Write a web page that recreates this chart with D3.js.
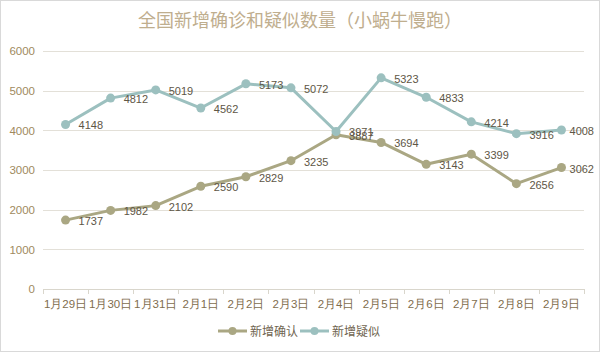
<!DOCTYPE html>
<html>
<head>
<meta charset="utf-8">
<script src="https://cdn.jsdelivr.net/npm/d3@7"></script>
<style>
  body { margin: 0; background: #fff; }
  svg { display: block; font-family: "Noto Sans CJK SC", "Noto Sans", sans-serif; }
</style>
</head>
<body>
<svg width="600" height="352"></svg>
<script>
  var categories = ["1月29日", "1月30日", "1月31日", "2月1日", "2月2日", "2月3日",
    "2月4日", "2月5日", "2月6日", "2月7日", "2月8日", "2月9日"];
  var confirmed = [1737, 1982, 2102, 2590, 2829, 3235, 3887, 3694, 3143, 3399, 2656, 3062];
  var suspected = [4148, 4812, 5019, 4562, 5173, 5072, 3971, 5323, 4833, 4214, 3916, 4008];
  var yTicks = [0, 1000, 2000, 3000, 4000, 5000, 6000];
  var seriesNames = ["新增确认", "新增疑似"];
  var seriesColors = ["#aaa783", "#9cc0bf"];

  var svg = d3.select("svg");
  var width = +svg.attr("width");
  var height = +svg.attr("height");

  // chart frame
  svg.append("rect")
    .attr("x", 0.5).attr("y", 0.5)
    .attr("width", width - 1).attr("height", height - 1)
    .attr("fill", "#fff").attr("stroke", "#d9d9d9");

  var margin = { top: 51, bottom: 63, left: 43, right: 16 };
  var innerWidth = width - margin.left - margin.right;
  var innerHeight = height - margin.top - margin.bottom;

  var xScale = d3.scaleBand()
    .domain(categories)
    .range([0, innerWidth]);

  var yScale = d3.scaleLinear()
    .domain([0, 6000])
    .range([innerHeight, 0]);

  var g = svg.append("g")
    .attr("transform", "translate(" + margin.left + "," + margin.top + ")");

  // title
  svg.append("text")
    .attr("x", width / 2).attr("y", 27)
    .attr("text-anchor", "middle")
    .attr("font-size", 18)
    .attr("fill", "#bfae8e")
    .text("全国新增确诊和疑似数量（小蜗牛慢跑）");

  // gridlines
  g.selectAll(".grid")
    .data(yTicks.slice(1))
    .enter()
    .append("line")
    .attr("x1", 0).attr("x2", innerWidth)
    .attr("y1", function (d) { return Math.round(yScale(d)) + 0.5; })
    .attr("y2", function (d) { return Math.round(yScale(d)) + 0.5; })
    .attr("stroke", "#e3e0d8");

  // y axis labels
  var yAxis = d3.axisLeft(yScale).tickValues(yTicks).tickFormat(d3.format("d"))
    .tickSize(0).tickPadding(8);
  var yG = g.append("g").call(yAxis);
  yG.select(".domain").remove();
  yG.selectAll("text")
    .attr("font-size", 11.5)
    .attr("fill", "#a08a5e")
    .attr("font-family", "Liberation Sans, sans-serif");

  // x axis
  var xAxis = d3.axisBottom(xScale).tickSize(0).tickPadding(11);
  var xG = g.append("g")
    .attr("transform", "translate(0," + innerHeight + ")")
    .call(xAxis);
  xG.select(".domain").attr("stroke", "#d9d6cc");
  xG.selectAll("text")
    .attr("font-size", 11.5)
    .attr("fill", "#7f6d4d");

  // category boundary ticks
  var bounds = categories.map(function (c) { return xScale(c); }).concat([innerWidth]);
  xG.selectAll(".bound")
    .data(bounds)
    .enter()
    .append("line")
    .attr("x1", function (d) { return Math.round(d) + 0.5; })
    .attr("x2", function (d) { return Math.round(d) + 0.5; })
    .attr("y1", 0).attr("y2", 5)
    .attr("stroke", "#d9d6cc");

  var xMid = function (d, i) { return xScale(categories[i]) + xScale.bandwidth() / 2; };
  var maxRight = width - margin.left - 6;

  [confirmed, suspected].forEach(function (values, s) {
    var line = d3.line()
      .x(function (d, i) { return xMid(d, i); })
      .y(function (d) { return yScale(d); });

    g.append("path")
      .datum(values)
      .attr("d", line)
      .attr("fill", "none")
      .attr("stroke", seriesColors[s])
      .attr("stroke-width", 3)
      .attr("stroke-linejoin", "round");

    g.selectAll(".pt" + s)
      .data(values)
      .enter()
      .append("circle")
      .attr("cx", xMid)
      .attr("cy", function (d) { return yScale(d); })
      .attr("r", 4.5)
      .attr("fill", seriesColors[s]);

    g.selectAll(".lb" + s)
      .data(values)
      .enter()
      .append("text")
      .attr("y", function (d) { return yScale(d) + 5; })
      .attr("font-size", 11)
      .attr("font-family", "Liberation Sans, sans-serif")
      .attr("fill", "#5e5646")
      .text(function (d) { return d; })
      .attr("x", function (d, i) {
        var w = this.getComputedTextLength();
        return Math.min(xMid(d, i) + 13, maxRight - w);
      });
  });

  // legend
  var legend = svg.append("g").attr("transform", "translate(218,331)");
  var legendX = [0, 82];
  seriesNames.forEach(function (name, s) {
    var lg = legend.append("g").attr("transform", "translate(" + legendX[s] + ",0)");
    lg.append("line")
      .attr("x1", 0).attr("x2", 29)
      .attr("stroke", seriesColors[s]).attr("stroke-width", 3);
    lg.append("circle").attr("cx", 14.5).attr("r", 4).attr("fill", seriesColors[s]);
    lg.append("text")
      .attr("x", 32).attr("y", 4.5)
      .attr("font-size", 12)
      .attr("fill", "#6f6450")
      .text(name);
  });
</script>
</body>
</html>
